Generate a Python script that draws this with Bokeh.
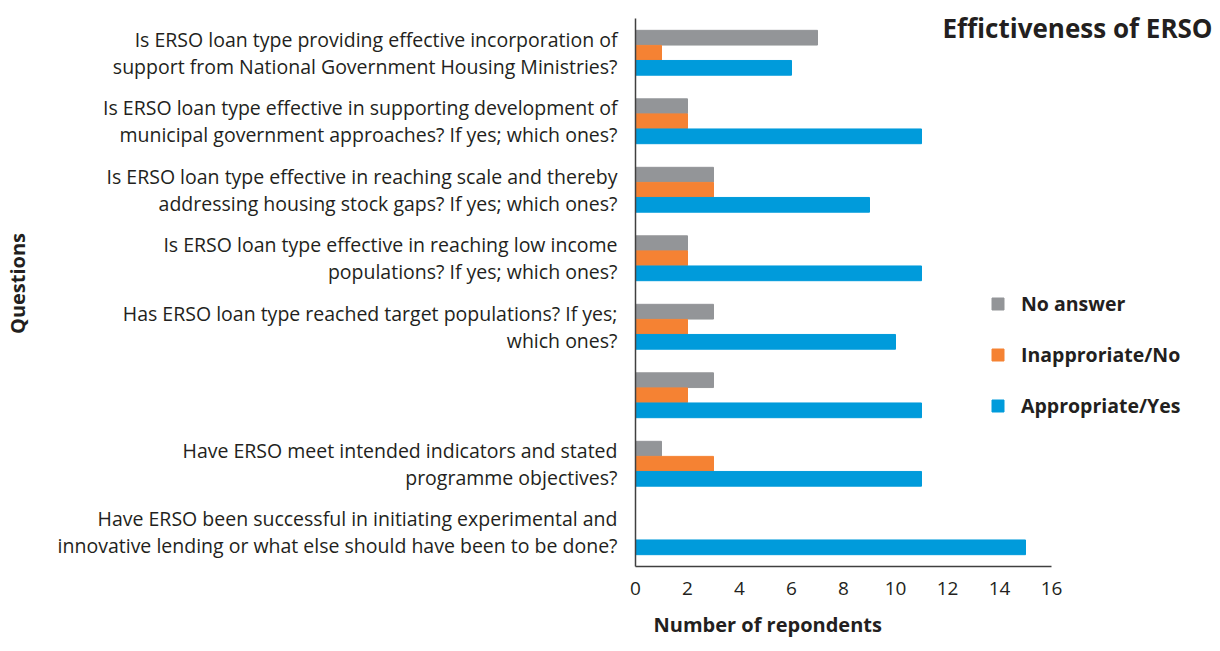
import numpy as np
from bokeh.plotting import figure
from bokeh.models import (ColumnDataSource, Range1d, Legend, LegendItem, Label, Title,
                          FixedTicker)
from bokeh.transform import dodge
from bokeh.embed import file_html
from bokeh.resources import INLINE

questions = [
    "Is ERSO loan type providing effective incorporation of\nsupport from National Government Housing Ministries?",
    "Is ERSO loan type effective in supporting development of\nmunicipal government approaches? If yes; which ones?",
    "Is ERSO loan type effective in reaching scale and thereby\naddressing housing stock gaps? If yes; which ones?",
    "Is ERSO loan type effective in reaching low income\npopulations? If yes; which ones?",
    "Has ERSO loan type reached target populations? If yes;\nwhich ones?",
    "",
    "Have ERSO meet intended indicators and stated\nprogramme objectives?",
    "Have ERSO been successful in initiating experimental and\ninnovative lending or what else should have been to be done?",
]
no_answer = [7, 2, 3, 2, 3, 3, 1, 0]
inappropriate_no = [1, 2, 3, 2, 2, 2, 3, 0]
appropriate_yes = [6, 11, 9, 11, 10, 11, 11, 15]
series_names = ["No answer", "Inapproriate/No", "Appropriate/Yes"]
x_ticks = [0, 2, 4, 6, 8, 10, 12, 14, 16]

colors = ["#939598", "#F58233", "#009BDB"]
FONT = "Open Sans"
TXT = "#231F20"

n = len(questions)
pos = list(range(n - 1, -1, -1))  # first question at the top
src = ColumnDataSource(dict(pos=pos, na=no_answer, no=inappropriate_no, yes=appropriate_yes))

p = figure(width=1220, height=651, output_backend="svg", toolbar_location=None,
           y_range=Range1d(-0.5, n - 0.5 + 0.263), x_range=Range1d(0, 22.5))
p.min_border_left = 635
p.min_border_right = 0
p.min_border_top = 0
p.min_border_bottom = 85
p.outline_line_color = None
p.grid.visible = False
p.background_fill_color = "white"

r1 = p.hbar(y=dodge("pos", 0.22), right="na", left=0, height=0.215, source=src, color=colors[0])
r2 = p.hbar(y=dodge("pos", 0.0), right="no", left=0, height=0.215, source=src, color=colors[1])
r3 = p.hbar(y=dodge("pos", -0.22), right="yes", left=0, height=0.215, source=src, color=colors[2])

xa = p.xaxis[0]
xa.ticker = FixedTicker(ticks=x_ticks)
xa.bounds = (x_ticks[0], x_ticks[-1])
xa.major_tick_line_color = None
xa.minor_tick_line_color = None
xa.axis_line_color = "#404040"
xa.axis_line_width = 1.5
xa.major_label_text_font = FONT
xa.major_label_text_font_size = "19px"
xa.major_label_text_color = TXT
xa.major_label_standoff = 9

ya = p.yaxis[0]
ya.ticker = FixedTicker(ticks=pos)
ya.major_label_overrides = {pp: q for pp, q in zip(pos, questions)}
ya.bounds = (-0.5, n - 0.5)
ya.major_tick_line_color = None
ya.minor_tick_line_color = None
ya.axis_line_color = "#404040"
ya.axis_line_width = 1.5
ya.major_label_text_font = FONT
ya.major_label_text_font_size = "19.5px"
ya.major_label_text_color = TXT
ya.major_label_text_line_height = 1.0
ya.major_label_standoff = 12
ya.axis_label = "Questions"
ya.axis_label_text_font = FONT
ya.axis_label_text_font_size = "20px"
ya.axis_label_text_font_style = "bold"
ya.axis_label_text_color = TXT
ya.axis_label_standoff = 24

xt = Title(text="Number of repondents", align="left", offset=18, text_font=FONT,
           text_font_size="20px", text_font_style="bold", text_color=TXT, standoff=22,
           vertical_align="bottom")
p.add_layout(xt, "below")

title = Label(x=307, y=539, x_units="screen", y_units="screen", text="Effictiveness of ERSO",
              text_font=FONT, text_font_size="26px", text_font_style="bold", text_color=TXT,
              text_baseline="middle", text_align="left")
p.add_layout(title)

legend = Legend(items=[LegendItem(label=series_names[0], renderers=[r1]),
                       LegendItem(label=series_names[1], renderers=[r2]),
                       LegendItem(label=series_names[2], renderers=[r3])],
                location=(355, 147), orientation="vertical",
                glyph_width=15, glyph_height=15, label_height=15, spacing=24,
                label_standoff=16, padding=0, margin=0,
                border_line_color=None, background_fill_alpha=0,
                label_text_font=FONT, label_text_font_size="19.5px",
                label_text_font_style="bold", label_text_color=TXT)
p.add_layout(legend)

open("out.html", "w").write(file_html(p, INLINE))
